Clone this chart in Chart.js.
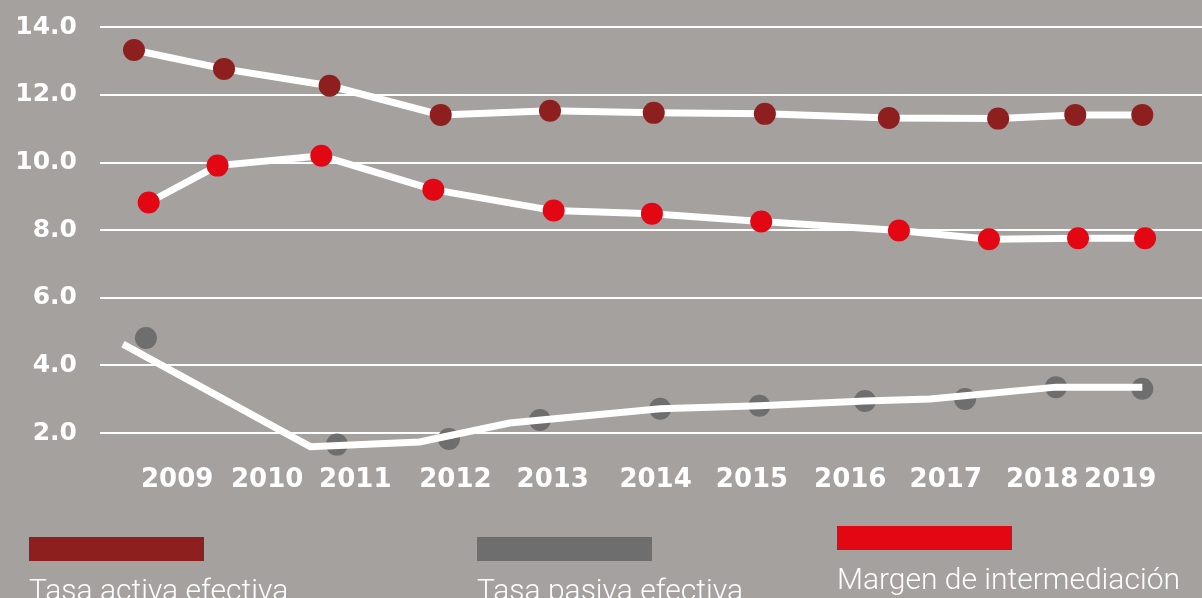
<!DOCTYPE html>
<html>
<head>
<meta charset="utf-8">
<script src="https://cdn.jsdelivr.net/npm/chart.js@4/dist/chart.umd.min.js"></script>
<style>
  html, body { margin: 0; padding: 0; background: #a5a19f; overflow: hidden; }
  canvas { display: block; }
</style>
</head>
<body>
<canvas id="chart" width="1202" height="598"></canvas>
<script>
// x values are positions on a year axis (labels and dots are not evenly spaced)
const tickYears = ['2009', '2010', '2011', '2012', '2013', '2014', '2015', '2016', '2017', '2018', '2019'];
const tickPos = [2008.84, 2009.82, 2010.78, 2011.87, 2012.93, 2014.05, 2015.10, 2016.17, 2017.21, 2018.26, 2019.11];
const yTicks = [2, 4, 6, 8, 10, 12, 14];

const activaX = [2008.37, 2009.35, 2010.50, 2011.71, 2012.90, 2014.03, 2015.24, 2016.59, 2017.78, 2018.62, 2019.35];
const activaY = [13.33, 12.77, 12.27, 11.41, 11.53, 11.47, 11.44, 11.32, 11.30, 11.41, 11.41];

const margenX = [2008.53, 2009.28, 2010.41, 2011.63, 2012.94, 2014.01, 2015.20, 2016.70, 2017.68, 2018.65, 2019.38];
const margenY = [8.82, 9.91, 10.20, 9.20, 8.58, 8.49, 8.26, 7.99, 7.73, 7.76, 7.76];

const pasivaX = [2008.50, 2010.58, 2011.80, 2012.79, 2014.10, 2015.18, 2016.33, 2017.42, 2018.41, 2019.35];
const pasivaY = [4.81, 1.66, 1.83, 2.39, 2.72, 2.81, 2.95, 3.01, 3.36, 3.31];

// the white trend line under the grey dots does not run through them
const pasivaLineX = [2008.25, 2010.29, 2011.48, 2012.46, 2014.10, 2015.18, 2016.33, 2017.04, 2018.41, 2019.35];
const pasivaLineY = [4.63, 1.60, 1.74, 2.30, 2.72, 2.81, 2.95, 3.01, 3.36, 3.36];

const darkRed = '#8e1f1f';
const red = '#e30613';
const grey = '#6f6e6e';
const bg = '#a5a19f';

const pts = (xs, ys) => xs.map((x, i) => ({ x: x, y: ys[i] }));

const legendItems = [
  { label: 'Tasa activa efectiva', color: darkRed, x: 29, y: 537 },
  { label: 'Tasa pasiva efectiva', color: grey, x: 477, y: 537 },
  { label: 'Margen de intermediación', color: red, x: 837, y: 526 }
];

const backdrop = {
  id: 'backdrop',
  beforeDraw(chart) {
    const c = chart.ctx;
    c.save();
    c.fillStyle = bg;
    c.fillRect(0, 0, chart.width, chart.height);
    c.restore();
  }
};

const bottomLegend = {
  id: 'bottomLegend',
  afterDraw(chart) {
    const c = chart.ctx;
    c.save();
    c.font = '300 30px Roboto, "Liberation Sans", sans-serif';
    c.textBaseline = 'alphabetic';
    c.textAlign = 'left';
    legendItems.forEach(it => {
      c.fillStyle = it.color;
      c.fillRect(it.x, it.y, 175, 24);
      c.fillStyle = '#ffffff';
      c.fillText(it.label, it.x, it.y + 63);
    });
    c.restore();
  }
};

new Chart(document.getElementById('chart'), {
  type: 'line',
  data: {
    datasets: [
      {
        label: 'Tasa pasiva efectiva (línea)',
        data: pts(pasivaLineX, pasivaLineY),
        borderColor: '#ffffff',
        borderWidth: 7,
        pointRadius: 0,
        fill: false
      },
      {
        label: 'Tasa pasiva efectiva',
        data: pts(pasivaX, pasivaY),
        showLine: false,
        pointRadius: 11,
        pointBackgroundColor: grey,
        pointBorderWidth: 0
      },
      {
        label: 'Tasa activa efectiva',
        data: pts(activaX, activaY),
        borderColor: '#ffffff',
        borderWidth: 7,
        pointRadius: 11,
        pointBackgroundColor: darkRed,
        pointBorderWidth: 0
      },
      {
        label: 'Margen de intermediación',
        data: pts(margenX, margenY),
        borderColor: '#ffffff',
        borderWidth: 7,
        pointRadius: 11,
        pointBackgroundColor: red,
        pointBorderWidth: 0
      }
    ]
  },
  options: {
    responsive: false,
    animation: false,
    clip: false,
    layout: { autoPadding: false, padding: { top: 7, bottom: 94, left: 0, right: 0 } },
    elements: { line: { tension: 0 } },
    plugins: {
      legend: { display: false },
      tooltip: { enabled: false }
    },
    scales: {
      x: {
        type: 'linear',
        min: 2008,
        max: 2020,
        afterBuildTicks: s => { s.ticks = tickPos.map(v => ({ value: v })); },
        afterFit: s => { s.paddingLeft = 0; s.paddingRight = 0; },
        grid: { display: false, drawTicks: false },
        border: { display: false },
        ticks: {
          padding: 8,
          autoSkip: false,
          maxRotation: 0,
          color: '#ffffff',
          font: { family: 'DejaVu Sans', weight: 'bold', size: 26 },
          callback: (v, i) => tickYears[i]
        }
      },
      y: {
        min: 1.3,
        max: 14.6,
        afterBuildTicks: s => { s.ticks = yTicks.map(v => ({ value: v })); },
        afterFit: s => { s.width = 100; s.paddingTop = 0; s.paddingBottom = 0; },
        grid: { color: '#ffffff', lineWidth: 2, drawTicks: false },
        border: { display: false },
        ticks: {
          padding: 23,
          color: '#ffffff',
          font: { family: 'DejaVu Sans', weight: 'bold', size: 25 },
          callback: v => v.toFixed(1)
        }
      }
    }
  },
  plugins: [backdrop, bottomLegend]
});
</script>
</body>
</html>
